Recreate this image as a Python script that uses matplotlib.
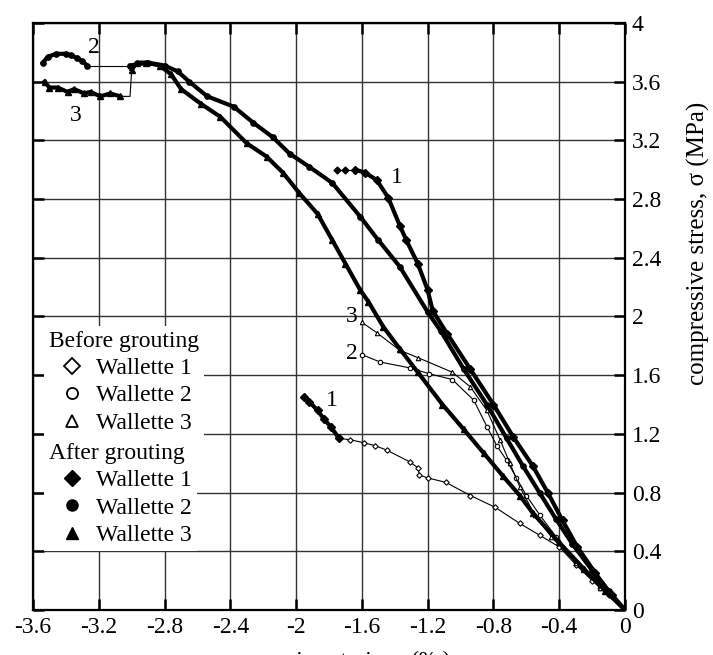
import matplotlib
matplotlib.use("Agg")
import matplotlib.pyplot as plt
from matplotlib.lines import Line2D

plt.rcParams['font.family'] = ['Liberation Serif', 'DejaVu Serif']
plt.rcParams['font.size'] = 17

# axis ticks
x_ticks = [-3.6, -3.2, -2.8, -2.4, -2.0, -1.6, -1.2, -0.8, -0.4, 0.0]
x_labels = ["-3.6", "-3.2", "-2.8", "-2.4", "-2", "-1.6", "-1.2", "-0.8", "-0.4", "0"]
y_ticks = [0, 0.4, 0.8, 1.2, 1.6, 2.0, 2.4, 2.8, 3.2, 3.6, 4.0]
y_labels = ["0", "0.4", "0.8", "1.2", "1.6", "2", "2.4", "2.8", "3.2", "3.6", "4"]

# before grouting (thin lines)
bw1_x = [0, -0.1, -0.2, -0.3, -0.4, -0.52, -0.64, -0.79, -0.94, -1.09, -1.2, -1.25, -1.26, -1.31, -1.45, -1.52, -1.59, -1.67, -1.74]
bw1_y = [0, 0.1, 0.2, 0.31, 0.43, 0.51, 0.59, 0.70, 0.78, 0.87, 0.90, 0.92, 0.97, 1.01, 1.09, 1.12, 1.14, 1.16, 1.17]
bw1_end_x = [-1.74, -1.79, -1.83, -1.87, -1.92, -1.95]
bw1_end_y = [1.17, 1.25, 1.30, 1.36, 1.42, 1.45]

bw2_x = [0, -0.15, -0.3, -0.42, -0.52, -0.6, -0.66, -0.72, -0.78, -0.84, -0.92, -1.05, -1.19, -1.31, -1.49, -1.60]
bw2_y = [0, 0.15, 0.33, 0.5, 0.65, 0.78, 0.9, 1.02, 1.12, 1.25, 1.43, 1.57, 1.61, 1.65, 1.69, 1.74]

bw3_x = [0, -0.15, -0.3, -0.45, -0.55, -0.64, -0.70, -0.76, -0.84, -0.94, -1.05, -1.26, -1.37, -1.51, -1.60]
bw3_y = [0, 0.15, 0.32, 0.5, 0.65, 0.84, 1.0, 1.16, 1.36, 1.52, 1.62, 1.72, 1.77, 1.89, 1.96]

# after grouting (thick lines)
aw1_x = [0, -0.08, -0.18, -0.29, -0.38, -0.47, -0.56, -0.68, -0.80, -0.94, -1.08, -1.17, -1.20, -1.26, -1.33, -1.37, -1.44, -1.51, -1.58, -1.64]
aw1_y = [0, 0.1, 0.25, 0.43, 0.61, 0.8, 0.98, 1.18, 1.40, 1.64, 1.88, 2.04, 2.18, 2.36, 2.52, 2.62, 2.81, 2.93, 2.98, 3.0]
aw1_tail_x = [-1.70, -1.75]
aw1_tail_y = [3.0, 3.0]

aw2_x = [0, -0.1, -0.2, -0.32, -0.42, -0.52, -0.62, -0.72, -0.84, -0.98, -1.12, -1.20, -1.37, -1.50, -1.61, -1.78,
         -1.92, -2.04, -2.14, -2.26, -2.38, -2.54, -2.65, -2.72, -2.80, -2.90, -3.01]
aw2_y = [0, 0.13, 0.27, 0.45, 0.62, 0.80, 0.98, 1.17, 1.40, 1.64, 1.9, 2.03, 2.34, 2.52, 2.68, 2.91,
         3.02, 3.11, 3.22, 3.32, 3.43, 3.50, 3.60, 3.67, 3.71, 3.73, 3.71]
aw2_end_x = [-3.27, -3.30, -3.33, -3.37, -3.40, -3.46, -3.51, -3.54]
aw2_end_y = [3.71, 3.74, 3.76, 3.78, 3.79, 3.79, 3.77, 3.73]

aw3_x = [0, -0.12, -0.25, -0.40, -0.56, -0.64, -0.74, -0.86, -0.98, -1.11, -1.26, -1.37, -1.47, -1.56, -1.61, -1.70,
         -1.78, -1.87, -1.98, -2.08, -2.18, -2.30, -2.46, -2.58, -2.70, -2.76, -2.83, -2.91, -2.97, -3.0]
aw3_y = [0, 0.13, 0.28, 0.46, 0.66, 0.78, 0.91, 1.07, 1.23, 1.40, 1.62, 1.78, 1.93, 2.10, 2.18, 2.36,
         2.52, 2.70, 2.84, 2.98, 3.09, 3.18, 3.36, 3.45, 3.55, 3.65, 3.71, 3.73, 3.73, 3.68]
aw3_jump_x = [-3.01]
aw3_jump_y = [3.50]
aw3_end_x = [-3.07, -3.13, -3.19, -3.25, -3.29, -3.35, -3.39, -3.45, -3.50, -3.53]
aw3_end_y = [3.50, 3.52, 3.50, 3.53, 3.52, 3.55, 3.53, 3.56, 3.56, 3.60]

# curve numbers
tag_x = [-3.23, -3.34, -1.39, -1.66, -1.66, -1.78]
tag_y = [3.83, 3.37, 2.95, 2.0, 1.75, 1.43]
tag_s = ["2", "3", "1", "3", "2", "1"]


fig = plt.figure(figsize=(7.13, 6.55), dpi=100)
ax = fig.add_axes([0.0463, 0.0687, 0.8303, 0.8962])


def thin(x, y, m, ms=3.2):
    ax.plot(x, y, color='k', lw=0.8, marker=m, ms=ms, mfc='white', mec='k', mew=0.8, zorder=3)


def thick(x, y, m):
    ax.plot(x, y, color='k', lw=3.0, marker=m, ms=3.8, mfc='k', mec='k', zorder=4)


def link(x, y):
    ax.plot(x, y, color='k', lw=0.8, zorder=3)


thin(bw1_x, bw1_y, 'D', ms=2.8)
thick(bw1_end_x, bw1_end_y, 'D')
thin(bw2_x, bw2_y, 'o')
thin(bw3_x, bw3_y, '^')

thick(aw1_x, aw1_y, 'D')
link([aw1_x[-1]] + aw1_tail_x, [aw1_y[-1]] + aw1_tail_y)
ax.plot(aw1_tail_x, aw1_tail_y, ls='none', marker='D', ms=3.5, color='k')

thick(aw2_x, aw2_y, 'o')
link([aw2_x[-1], aw2_end_x[0]], [aw2_y[-1], aw2_end_y[0]])
thick(aw2_end_x, aw2_end_y, 'o')

thick(aw3_x, aw3_y, '^')
link([aw3_x[-1]] + aw3_jump_x + [aw3_end_x[0]], [aw3_y[-1]] + aw3_jump_y + [aw3_end_y[0]])
thick(aw3_end_x, aw3_end_y, '^')

for tx, ty, ts in zip(tag_x, tag_y, tag_s):
    ax.text(tx, ty, ts, ha='center', va='center', fontsize=17)

ax.set_xlim(-3.6, 0)
ax.set_ylim(0, 4)
ax.set_xticks(x_ticks, x_labels)
ax.set_yticks(y_ticks, y_labels)
ax.grid(True, color='#333333', lw=1.0)
ax.tick_params(direction='in', length=8, width=1.8, top=True, right=True, left=True, bottom=True,
               labelleft=False, labelright=True, pad=5)
for s in ax.spines.values():
    s.set_linewidth(1.6)

ax.yaxis.set_label_position('right')
ax.set_ylabel('compressive stress, σ (MPa)', fontsize=18)
ax.yaxis.set_label_coords(1.105, 0.625)
# the source image crops this label at the bottom edge
ax.set_xlabel('compressive strain, ε (‰)', fontsize=17, labelpad=9)

# legend: two stacked groups
before_h = [Line2D([], [], ls='none', marker=m, ms=8, mfc='white', mec='k', mew=1.3) for m in ['D', 'o', '^']]
after_h = [Line2D([], [], ls='none', marker=m, ms=8, mfc='k', mec='k') for m in ['D', 'o', '^']]
names = ['Wallette 1', 'Wallette 2', 'Wallette 3']

leg_kw = dict(loc='upper left', alignment='left', handlelength=2.0, handletextpad=0.0, labelspacing=0.25,
              borderpad=0.2, borderaxespad=0, facecolor='white', edgecolor='none', framealpha=1, fancybox=False,
              fontsize=17, title_fontsize=17)
leg1 = ax.legend(before_h, names, title='Before grouting', bbox_to_anchor=(0.0186, 0.484), **leg_kw)
ax.add_artist(leg1)
leg2 = ax.legend(after_h, names, title='After grouting', bbox_to_anchor=(0.0186, 0.293), **leg_kw)

fig.savefig('out.png', dpi=100)
